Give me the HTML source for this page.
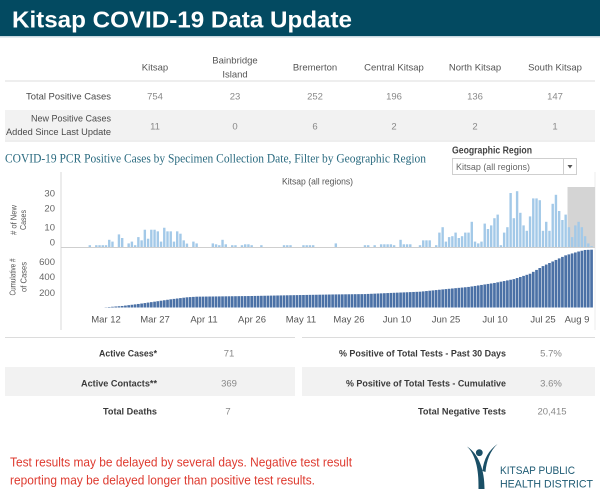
<!DOCTYPE html>
<html>
<head>
<meta charset="utf-8">
<style>
  html,body{margin:0;padding:0;background:#fff;}
  svg{display:block;}
  text{font-family:"Liberation Sans",sans-serif;}
</style>
</head>
<body>
<svg id="s" xmlns="http://www.w3.org/2000/svg" width="600" height="500" viewBox="0 0 600 500">
  <rect x="0" y="0" width="600" height="500" fill="#fff"/>
  <!-- Title bar -->
  <rect x="0" y="0" width="600" height="36" fill="#034a61"/>
  <rect x="0" y="36" width="600" height="1.5" fill="#c9d9e1"/>
  <text x="12" y="27.5" font-size="23.5" font-weight="bold" fill="#fff" textLength="340" lengthAdjust="spacingAndGlyphs">Kitsap COVID-19 Data Update</text>

  <!-- Top table -->
  <g font-size="9.5" fill="#555" text-anchor="middle">
    <text x="155" y="70.5">Kitsap</text>
    <text x="235" y="63.5">Bainbridge</text>
    <text x="235" y="77.5">Island</text>
    <text x="315" y="70.5">Bremerton</text>
    <text x="394" y="70.5">Central Kitsap</text>
    <text x="475" y="70.5">North Kitsap</text>
    <text x="555" y="70.5">South Kitsap</text>
  </g>
  <rect x="5" y="80.5" width="590" height="1" fill="#dcdcdc"/>
  <rect x="5" y="110" width="590" height="30" fill="#f2f2f2"/>
  <g font-size="9.5" fill="#4a4a4a" text-anchor="end">
    <text x="111" y="99.5" textLength="85" lengthAdjust="spacingAndGlyphs">Total Positive Cases</text>
    <text x="111" y="121.5" textLength="80" lengthAdjust="spacingAndGlyphs">New Positive Cases</text>
    <text x="111" y="135" textLength="105" lengthAdjust="spacingAndGlyphs">Added Since Last Update</text>
  </g>
  <g font-size="9.5" fill="#888" text-anchor="middle">
    <text x="155" y="99.5">754</text>
    <text x="235" y="99.5">23</text>
    <text x="315" y="99.5">252</text>
    <text x="394" y="99.5">196</text>
    <text x="475" y="99.5">136</text>
    <text x="555" y="99.5">147</text>
    <text x="155" y="129.5">11</text>
    <text x="235" y="129.5">0</text>
    <text x="315" y="129.5">6</text>
    <text x="394" y="129.5">2</text>
    <text x="475" y="129.5">2</text>
    <text x="555" y="129.5">1</text>
  </g>

  <!-- Chart section -->
  <rect x="5" y="140.5" width="590" height="1" fill="#dcdcdc"/>
  <text x="5" y="162.5" font-family="Liberation Serif, serif" style="font-family:'Liberation Serif',serif" font-size="12.5" fill="#2b6b80" textLength="421" lengthAdjust="spacingAndGlyphs">COVID-19 PCR Positive Cases by Specimen Collection Date, Filter by Geographic Region</text>
  <text x="452" y="153.5" font-size="10" font-weight="bold" fill="#444" textLength="80" lengthAdjust="spacingAndGlyphs">Geographic Region</text>
  <rect x="452.5" y="158.5" width="124" height="16" fill="#fff" stroke="#cfcfcf" stroke-width="1"/>
  <rect x="563" y="159" width="1" height="15" fill="#cfcfcf"/>
  <text x="456" y="170" font-size="9.5" fill="#666" textLength="74" lengthAdjust="spacingAndGlyphs">Kitsap (all regions)</text>
  <path d="M567.5,165 L572.5,165 L570,168.5 Z" fill="#555"/>

  <!-- chart frame -->
  <rect x="60.5" y="172" width="1" height="158" fill="#dadada"/>
  <rect x="594.5" y="172" width="1" height="158" fill="#ececec"/>
  <text x="317.5" y="184.5" font-size="9.5" fill="#555" text-anchor="middle" textLength="71" lengthAdjust="spacingAndGlyphs">Kitsap (all regions)</text>

  <!-- gray highlight -->
  <rect x="567.5" y="187" width="27.5" height="60.5" fill="#d4d4d4"/>

  <!-- axis titles -->
  <g font-size="8.5" fill="#555" text-anchor="middle">
    <text transform="translate(16.5,220) rotate(-90)" textLength="30" lengthAdjust="spacingAndGlyphs"># of New</text>
    <text transform="translate(26,220) rotate(-90)" textLength="20" lengthAdjust="spacingAndGlyphs">Cases</text>
    <text transform="translate(15.7,277) rotate(-90)" textLength="37" lengthAdjust="spacingAndGlyphs">Cumulative #</text>
    <text transform="translate(26.7,277) rotate(-90)" textLength="30" lengthAdjust="spacingAndGlyphs">of Cases</text>
  </g>
  <!-- tick labels -->
  <g font-size="9.5" fill="#666" text-anchor="end">
    <text x="55" y="196.5">30</text>
    <text x="55" y="211.5">20</text>
    <text x="55" y="230.5">10</text>
    <text x="55" y="245.5">0</text>
    <text x="55" y="265">600</text>
    <text x="55" y="280">400</text>
    <text x="55" y="296">200</text>
  </g>
  <g font-size="9.5" fill="#555" text-anchor="middle">
    <text x="106" y="322.5">Mar 12</text>
    <text x="155" y="322.5">Mar 27</text>
    <text x="204" y="322.5">Apr 11</text>
    <text x="252" y="322.5">Apr 26</text>
    <text x="301" y="322.5">May 11</text>
    <text x="349" y="322.5">May 26</text>
    <text x="397" y="322.5">Jun 10</text>
    <text x="446" y="322.5">Jun 25</text>
    <text x="495" y="322.5">Jul 10</text>
    <text x="543" y="322.5">Jul 25</text>
    <text x="577" y="322.5">Aug 9</text>
  </g>
  <g id="bars"></g>
  <rect x="61" y="247" width="534" height="1" fill="#cfcfcf"/>

  <!-- Bottom tables -->
  <rect x="5" y="337" width="290" height="1" fill="#dcdcdc"/>
  <rect x="302" y="337" width="293" height="1" fill="#dcdcdc"/>
  <rect x="5" y="367" width="290" height="29" fill="#f2f2f2"/>
  <rect x="302" y="367" width="293" height="29" fill="#f2f2f2"/>
  <g font-size="9.5" font-weight="bold" fill="#3a3a3a" text-anchor="end">
    <text x="157" y="356.5" textLength="58" lengthAdjust="spacingAndGlyphs">Active Cases*</text>
    <text x="157" y="386.5" textLength="76" lengthAdjust="spacingAndGlyphs">Active Contacts**</text>
    <text x="157" y="414.5" textLength="54" lengthAdjust="spacingAndGlyphs">Total Deaths</text>
    <text x="506" y="356.5" textLength="167" lengthAdjust="spacingAndGlyphs">% Positive of Total Tests - Past 30 Days</text>
    <text x="506" y="386.5" textLength="160" lengthAdjust="spacingAndGlyphs">% Positive of Total Tests - Cumulative</text>
    <text x="506" y="414.5" textLength="88" lengthAdjust="spacingAndGlyphs">Total Negative Tests</text>
  </g>
  <g font-size="9.5" fill="#888" text-anchor="middle">
    <text x="229" y="356.5">71</text>
    <text x="229" y="386.5">369</text>
    <text x="228" y="414.5">7</text>
    <text x="551" y="356.5">5.7%</text>
    <text x="551" y="386.5">3.6%</text>
    <text x="552" y="414.5">20,415</text>
  </g>

  <!-- Red note -->
  <g font-size="12.5" fill="#de3a2f">
    <text x="10" y="466.5" textLength="342" lengthAdjust="spacingAndGlyphs">Test results may be delayed by several days. Negative test result</text>
    <text x="10" y="484.5" textLength="305" lengthAdjust="spacingAndGlyphs">reporting may be delayed longer than positive test results.</text>
  </g>

  <!-- Logo -->
  <g fill="#1a4f66">
    <circle cx="479.3" cy="452.7" r="3.4"/>
    <path d="M467,446.5 C475,454 479,468 478.5,489 L484.5,489 C484.5,470 479,454 467,446.5 Z"/>
    <path d="M497.5,444 C489,450 483.5,459 482.5,471 L485.5,472 C486.5,461 490,451 497.5,444 Z"/>
  </g>
  <g font-size="11" fill="#1d5a73">
    <text x="500" y="474" textLength="75" lengthAdjust="spacingAndGlyphs">KITSAP PUBLIC</text>
    <text x="500" y="487.5" textLength="93" lengthAdjust="spacingAndGlyphs">HEALTH DISTRICT</text>
  </g>
</svg>
<script>
(function(){
  var daily=[1,0,1,1,1,
  1,4,3,0,7,5,0,2,3,1,
  5.5,3.7,9.6,4.6,9.6,9.6,8.7,3,10.7,8.7,
  8.7,3,8.7,7.4,3.7,1.9,0,3,2,0,
  0,0,0,2,1.5,1,4,1.5,0,1,
  1,0,1,1.5,1.5,1,0,0,1,0,
  0,0,0,0,0,1,1,1,0,0,
  0,1,1,1,1,0,0,0,0,0,
  0,2,0,0,0,0,0,0,0,0,
  1,1,0,1,0,1.5,1.5,1.5,1.5,1,
  0,4,1.5,1.5,1.5,0,0,1,3.7,3.7,
  3.7,0,1,8,11,3,5.5,6,8,5,
  6,8,8,14,3,2,3,13,10,12,
  16,18,1,8,11,30,16,31,19,12,
  9,17,27,27,26,9,14,9,24,29,
  20,15,18,11,5.5,12,14,11,6,2,0.5];
  var kp=[[-5,0],[0,3],[5,20],[10,46],[15,76],[20,107],[25,133],[28,141],[45,150],[57,160],[70,170],[80,175],[88,190],[97,206],[105,240],[112,268],[120,320],[126,370],[131,440],[135,540],[138,600],[142,680],[146,730],[148,750],[150,754]];
  function cum(d){
    for(var i=0;i<kp.length-1;i++){
      if(d>=kp[i][0]&&d<=kp[i+1][0]){
        var t=(d-kp[i][0])/(kp[i+1][0]-kp[i][0]);
        return kp[i][1]+t*(kp[i+1][1]-kp[i][1]);
      }
    }
    return 754;
  }
  var g=document.getElementById('bars');
  var ns='http://www.w3.org/2000/svg';
  var out='';
  for(var i=0;i<daily.length;i++){
    var d=i-5;
    var x=106+d*3.237;
    var v=daily[i];
    if(v>0){
      var h=v*1.8;
      out+='<rect x="'+(x-1.2).toFixed(2)+'" y="'+(247-h).toFixed(2)+'" width="2.4" height="'+h.toFixed(2)+'" fill="#a3c9e8"/>';
    }
    var c=cum(d);
    var hc=c*0.0767;
    if(hc>0.2){
      out+='<rect x="'+(x-1.35).toFixed(2)+'" y="'+(307.5-hc).toFixed(2)+'" width="2.7" height="'+hc.toFixed(2)+'" fill="#4b71a6"/>';
    }
  }
  g.innerHTML=out;
})();
</script>
</body>
</html>
